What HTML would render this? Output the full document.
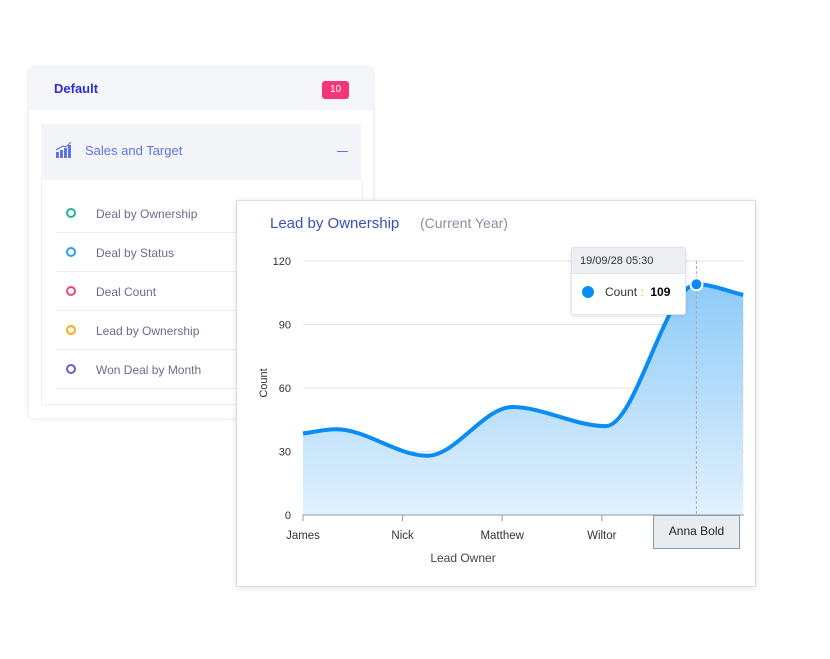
<!DOCTYPE html>
<html><head><meta charset="utf-8">
<style>
body{margin:0;width:830px;height:659px;background:#fff;position:relative;overflow:hidden;font-family:"Liberation Sans",sans-serif;}
.card{position:absolute;left:29px;top:68px;width:344px;height:350px;background:#fff;box-shadow:0 0 6px rgba(0,0,0,.12);border-radius:3px;}
.hdr{position:absolute;left:0;top:0;width:344px;height:42px;background:#f5f6fa;}
.hdr .t{position:absolute;left:25px;top:13px;font-size:13px;font-weight:bold;color:#2a2fd8;}
.badge{position:absolute;left:293px;top:13px;width:27px;height:18px;background:#f5357a;border-radius:3px;color:#fff;font-size:10px;text-align:center;line-height:18px;}
.sec{position:absolute;left:12px;top:56px;width:320px;height:56px;background:#f4f5f9;}
.sec .t{position:absolute;left:44px;top:19px;font-size:13px;color:#5c74e8;}
.list{position:absolute;left:12px;top:112px;width:320px;height:224px;border:1px solid #f0f0f3;border-top:none;}
.item{position:absolute;left:14px;width:290px;height:39px;border-bottom:1px solid #eeeef2;font-size:12px;color:#6a6d88;}
.item span{position:absolute;left:40px;top:14px;}
.item i{position:absolute;left:10px;top:15px;width:6px;height:6px;border-radius:50%;border:2px solid;}
.chart{position:absolute;left:236px;top:200px;width:518px;height:385px;background:#fff;border:1px solid #dcdde0;box-shadow:0 1px 6px rgba(0,0,0,.12);}
</style></head><body>
<div class="card">
 <div class="hdr"><div class="t">Default</div><div class="badge">10</div></div>
 <div class="sec">
  <svg style="position:absolute;left:15px;top:18px" width="17" height="16"><rect x="0" y="10" width="3" height="6" fill="#5c74e8"/><rect x="4" y="8" width="3" height="8" fill="#5c74e8"/><rect x="8" y="6" width="3" height="10" fill="#5c74e8"/><rect x="12" y="3" width="3" height="13" fill="#5c74e8"/><path d="M0 8 L7 4 L10 5 L15 0" stroke="#5c74e8" fill="none" stroke-width="1.2"/></svg>
  <div class="t">Sales and Target</div>
  <div style="position:absolute;left:296px;top:27px;width:11px;height:1px;background:#5c74e8"></div>
 </div>
 <div class="list">
  <div class="item" style="top:13px"><i style="border-color:#1fb59a"></i><span>Deal by Ownership</span></div>
  <div class="item" style="top:52px"><i style="border-color:#2c9cf2"></i><span>Deal by Status</span></div>
  <div class="item" style="top:91px"><i style="border-color:#f0476a"></i><span>Deal Count</span></div>
  <div class="item" style="top:130px"><i style="border-color:#fbaa1c"></i><span>Lead by Ownership</span></div>
  <div class="item" style="top:169px"><i style="border-color:#6a5cc8"></i><span>Won Deal by Month</span></div>
 </div>
</div>
<div class="chart">
 <svg id="svg" width="518" height="385" style="position:absolute;left:0;top:0" font-family="Liberation Sans, sans-serif">
  <defs><linearGradient id="g" x1="0" y1="0" x2="0" y2="1"><stop offset="0" stop-color="#8ecbf8"/><stop offset="1" stop-color="#e2f1fd"/></linearGradient></defs>
  <text x="33" y="27" font-size="15" fill="#3f4db8">Lead by Ownership</text>
  <text x="183" y="27" font-size="14" fill="#8a8ea8">(Current Year)</text>
  <g id="grid"></g><g id="area"></g><g id="axes"></g>
  <text transform="translate(30,182) rotate(-90)" text-anchor="middle" font-size="11" fill="#333">Count</text>
  <text x="226" y="361" text-anchor="middle" font-size="12" fill="#444">Lead Owner</text>
 </svg>
 <div style="position:absolute;left:334px;top:46px;width:113px;height:66px;background:#fff;border:1px solid #e2e4e8;border-radius:3px;box-shadow:0 1px 4px rgba(0,0,0,.12);font-size:11px;">
  <div style="height:25px;background:#eceef1;border-bottom:1px solid #e0e2e6;line-height:26px;padding-left:8px;color:#333">19/09/28 05:30</div>
  <div style="position:absolute;left:10px;top:38px;width:12px;height:12px;border-radius:50%;background:#0a8cf5"></div>
  <div style="position:absolute;left:33px;top:37px;color:#333;font-size:12px">Count <span style="color:#f0a500">:</span> &nbsp;<b style="color:#000">109</b></div>
 </div>
 <div style="position:absolute;left:416px;top:314px;width:85px;height:32px;background:#e8ecef;border:1px solid #8b9aa3;font-size:12px;color:#222;text-align:center;line-height:30px;">Anna Bold</div>
</div>
<script>
const categories=["James","Nick","Matthew","Wiltor","Anna Bold"];
const pointPos=[0,0.33,1.25,2.1,3.04,3.95,4.42];
const values=[38.5,40.5,28,51,42,109,104];
const yTicks=[0,30,60,90,120];
const hoverIndex=5;
const NS="http://www.w3.org/2000/svg";
const X0=66,STEP=99.6,Y0=314,YS=254/120,XR=507;
const xs=c=>X0+c*STEP, ys=v=>Y0-v*YS;
function mk(t,a,p){const e=document.createElementNS(NS,t);for(const k in a)e.setAttribute(k,a[k]);p.appendChild(e);return e;}
const grid=document.getElementById('grid'),area=document.getElementById('area'),axes=document.getElementById('axes');
yTicks.forEach(v=>{
 const l=mk('line',{x1:X0,x2:XR,y1:ys(v),y2:ys(v),stroke:'#e4e4e4'},grid);
 
 
 const t=mk('text',{x:X0-12,y:ys(v)+4,'text-anchor':'end','font-size':11,fill:'#333'},axes);t.textContent=v;
 
 
});
const P=pointPos.map((c,i)=>[xs(c),ys(values[i])]);
const n=P.length,d=[],m=[];
for(let i=0;i<n-1;i++)d.push((P[i+1][1]-P[i][1])/(P[i+1][0]-P[i][0]));
for(let i=0;i<n;i++){if(i==0)m.push(d[0]);else if(i==n-1)m.push(d[n-2]);else m.push(d[i-1]*d[i]<=0?0:(d[i-1]+d[i])/2);}
for(let i=0;i<n-1;i++){if(d[i]==0){m[i]=m[i+1]=0;continue;}const a=m[i]/d[i],b=m[i+1]/d[i],s=a*a+b*b;if(s>9){const t=3/Math.sqrt(s);m[i]=t*a*d[i];m[i+1]=t*b*d[i];}}
let path='M'+P[0][0]+' '+P[0][1];
for(let i=0;i<n-1;i++){const h=(P[i+1][0]-P[i][0])/3;path+=` C${P[i][0]+h} ${P[i][1]+m[i]*h} ${P[i+1][0]-h} ${P[i+1][1]-m[i+1]*h} ${P[i+1][0]} ${P[i+1][1]}`;}
const ar=mk('path',{d:path+` L${P[n-1][0]} ${Y0} L${P[0][0]} ${Y0} Z`,fill:'url(#g)'},area);


const hx=P[hoverIndex][0];
const cl=mk('line',{x1:hx,x2:hx,y1:60,y2:Y0,stroke:'#aab',"stroke-dasharray":'3,2'},area);


const ln=mk('path',{d:path,fill:'none',stroke:'#0a8cf5','stroke-width':4},area);


const pt=mk('circle',{cx:hx,cy:P[hoverIndex][1],r:6,fill:'#0a8cf5',stroke:'#fff','stroke-width':2},area);


const ax=mk('line',{x1:X0,x2:XR,y1:Y0,y2:Y0,stroke:'#999'},axes);


categories.forEach((c,i)=>{
 if(i<4){
 mk('line',{x1:xs(i),x2:xs(i),y1:Y0,y2:Y0+6,stroke:'#999'},axes);
 const t=mk('text',{x:xs(i),y:Y0+24,'text-anchor':'middle','font-size':11.5,fill:'#333'},axes);t.textContent=c;
 
 }
});
</script>
</body></html>
